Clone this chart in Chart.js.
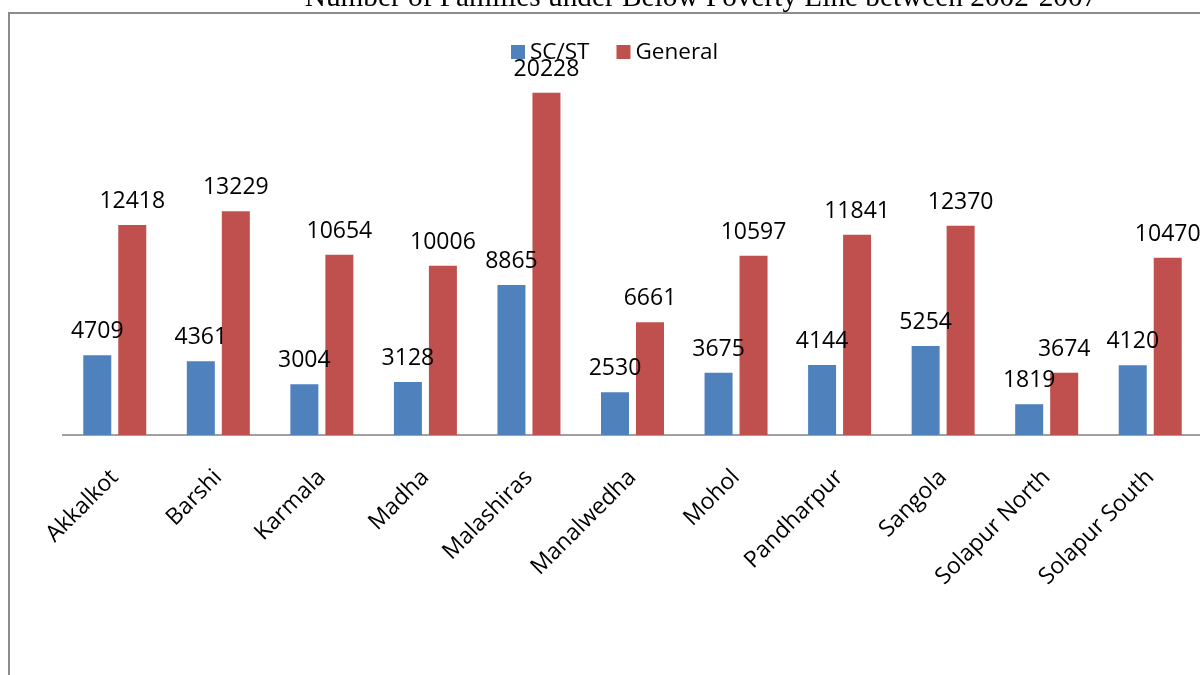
<!DOCTYPE html>
<html>
<head>
<meta charset="utf-8">
<title>BPL Families 2002-2007</title>
<script src="https://cdn.jsdelivr.net/npm/chart.js@4.4.1/dist/chart.umd.min.js"></script>
<style>
  html, body { margin: 0; padding: 0; background: #fff; overflow: hidden; }
  #wrap { position: absolute; left: 0; top: 0; width: 1215px; height: 675px; }
</style>
</head>
<body>
<div id="wrap"><canvas id="bplChart" width="1215" height="675"></canvas></div>
<script>
// talukas of Solapur district
const talukas = ['Akkalkot', 'Barshi', 'Karmala', 'Madha', 'Malashiras', 'Manalwedha',
  'Mohol', 'Pandharpur', 'Sangola', 'Solapur North', 'Solapur South'];
const scstFamilies = [4709, 4361, 3004, 3128, 8865, 2530, 3675, 4144, 5254, 1819, 4120];
const generalFamilies = [12418, 13229, 10654, 10006, 20228, 6661, 10597, 11841, 12370, 3674, 10470];
const chartTitle = 'Number of Families under Below Poverty Line between 2002-2007';

const labelFont = '23px "Open Sans", sans-serif';

// frame, title, legend and value labels
const decorations = {
  id: 'decorations',
  beforeDraw(chart) {
    const ctx = chart.ctx;
    ctx.save();
    ctx.strokeStyle = '#8c8c8c';
    ctx.lineWidth = 2;
    ctx.beginPath();
    ctx.moveTo(9, chart.height);
    ctx.lineTo(9, 13);
    ctx.lineTo(chart.width, 13);
    ctx.stroke();
    ctx.restore();
  },
  afterDatasetsDraw(chart) {
    const ctx = chart.ctx;
    ctx.save();
    ctx.fillStyle = '#000';
    ctx.font = labelFont;
    ctx.textAlign = 'center';
    ctx.textBaseline = 'alphabetic';
    chart.data.datasets.forEach((ds, i) => {
      chart.getDatasetMeta(i).data.forEach((bar, j) => {
        ctx.fillText(String(ds.data[j]), bar.x, bar.y - 17);
      });
    });

    // legend
    let x = 511;
    ctx.font = '22.5px "Open Sans", sans-serif';
    chart.data.datasets.forEach((ds) => {
      ctx.fillStyle = ds.backgroundColor;
      ctx.fillRect(x, 45, 14, 14);
      ctx.fillStyle = '#000';
      ctx.textAlign = 'left';
      ctx.fillText(ds.label, x + 19, 59);
      x += 19 + ctx.measureText(ds.label).width + 27;
    });

    // title
    ctx.font = '29.3px "Liberation Serif", "Times New Roman", serif';
    ctx.textAlign = 'center';
    ctx.fillText(chartTitle, 701, 6);
    ctx.restore();
  }
};

const ctx = document.getElementById('bplChart').getContext('2d');
new Chart(ctx, {
  type: 'bar',
  data: {
    labels: talukas,
    datasets: [
      { label: 'SC/ST', data: scstFamilies, backgroundColor: '#4F81BD' },
      { label: 'General', data: generalFamilies, backgroundColor: '#C0504D' }
    ]
  },
  options: {
    responsive: false,
    animation: false,
    devicePixelRatio: 1,
    layout: { padding: { left: 63, top: 12, right: 13, bottom: 0 } },
    datasets: { bar: { categoryPercentage: 0.676, barPercentage: 0.8 } },
    scales: {
      x: {
        grid: { display: false, drawTicks: false },
        border: { display: true, color: '#a0a0a0', width: 2 },
        ticks: {
          color: '#000',
          font: { family: 'Open Sans', size: 23 },
          minRotation: 45,
          maxRotation: 45,
          autoSkip: false,
          padding: 29
        },
        afterFit(scale) { scale.height = 240; }
      },
      y: {
        display: false,
        min: 0,
        max: 25000
      }
    },
    plugins: {
      legend: { display: false },
      tooltip: { enabled: false }
    }
  },
  plugins: [decorations]
});
</script>
</body>
</html>
